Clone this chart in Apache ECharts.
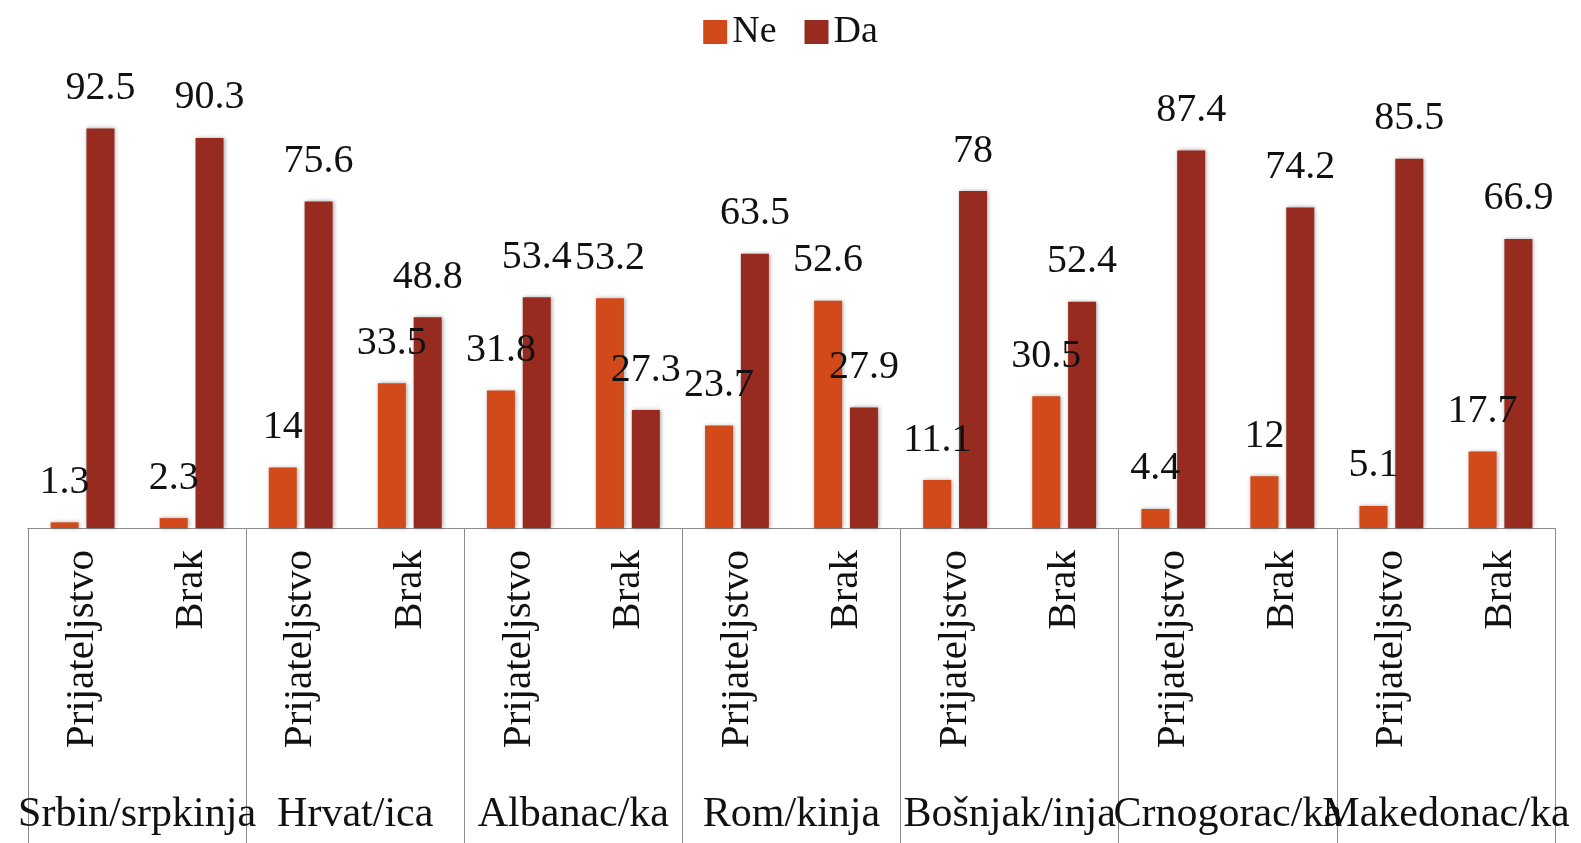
<!DOCTYPE html>
<html>
<head>
    <meta charset="utf-8">
    <title>Prijateljstvo / Brak</title>
    <script src="https://cdn.jsdelivr.net/npm/echarts@6.0.0/dist/echarts.min.js"></script>
    <style>
        html, body { margin: 0; padding: 0; background: #fff; }
        #chart-container { width: 1581px; height: 843px; }
    </style>
</head>
<body>
<div id="chart-container"></div>
<script>
    const chartDom = document.getElementById('chart-container');
    const myChart = echarts.init(chartDom);

    // podaci
    const groups = ['Srbin/srpkinja', 'Hrvat/ica', 'Albanac/ka', 'Rom/kinja', 'Bošnjak/inja', 'Crnogorac/ka', 'Makedonac/ka'];
    const relations = ['Prijateljstvo', 'Brak'];
    const neValues = [1.3, 2.3, 14, 33.5, 31.8, 53.2, 23.7, 52.6, 11.1, 30.5, 4.4, 12, 5.1, 17.7];
    const daValues = [92.5, 90.3, 75.6, 48.8, 53.4, 27.3, 63.5, 27.9, 78, 52.4, 87.4, 74.2, 85.5, 66.9];

    const categories = [];
    groups.forEach(() => relations.forEach(r => categories.push(r)));

    const font = '"Liberation Serif", "DejaVu Serif", serif';

    const barStyle = color => ({
        color: color,
        shadowBlur: 4,
        shadowColor: 'rgba(0,0,0,0.35)',
        shadowOffsetX: 1,
        shadowOffsetY: 0
    });

    const valueLabel = {
        show: true,
        position: 'top',
        distance: 20,
        color: '#111',
        fontFamily: font,
        fontSize: 40
    };

    const option = {
        backgroundColor: '#fff',
        legend: {
            data: ['Ne', 'Da'],
            top: 8,
            left: 'center',
            icon: 'rect',
            itemWidth: 24,
            itemHeight: 24,
            itemGap: 28,
            textStyle: { fontFamily: font, fontSize: 38, color: '#111' }
        },
        grid: {
            left: 28,
            right: 26,
            top: 96,
            bottom: 315,
            containLabel: false
        },
        xAxis: [
            {
                type: 'category',
                data: categories,
                axisLine: { show: true, lineStyle: { color: '#8c8c8c', width: 1 } },
                axisTick: { show: false },
                axisLabel: {
                    interval: 0,
                    rotate: 90,
                    margin: 22,
                    color: '#111',
                    fontFamily: font,
                    fontSize: 41
                }
            },
            {
                type: 'category',
                data: groups,
                position: 'bottom',
                axisLine: { show: true, lineStyle: { color: '#8c8c8c', width: 1 } },
                axisTick: { show: true, length: 330, lineStyle: { color: '#8c8c8c', width: 1 } },
                axisLabel: {
                    interval: 0,
                    margin: 266,
                    hideOverlap: false,
                    color: '#111',
                    fontFamily: font,
                    fontSize: 42
                }
            }
        ],
        yAxis: {
            type: 'value',
            min: 0,
            max: 100,
            show: false,
            splitLine: { show: false }
        },
        series: [
            {
                name: 'Ne',
                type: 'bar',
                xAxisIndex: 0,
                data: neValues,
                barWidth: 28,
                barGap: '28%',
                itemStyle: barStyle('#d24a1a'),
                label: valueLabel
            },
            {
                name: 'Da',
                type: 'bar',
                xAxisIndex: 0,
                data: daValues,
                barWidth: 28,
                itemStyle: barStyle('#982b20'),
                label: valueLabel
            }
        ]
    };

    myChart.setOption(option);

    window.addEventListener('resize', function() {
        myChart.resize();
    });
</script>
</body>
</html>
